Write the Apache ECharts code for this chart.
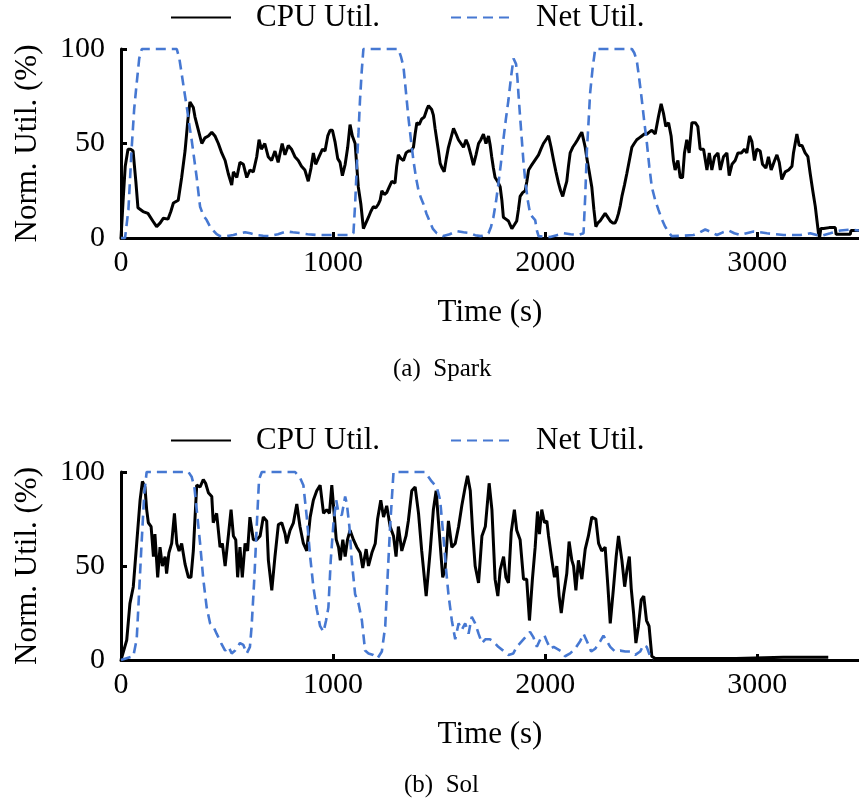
<!DOCTYPE html>
<html><head><meta charset="utf-8">
<script src="https://cdn.jsdelivr.net/npm/echarts@6/dist/echarts.min.js"></script>
<style>html,body{margin:0;padding:0;background:#fff}#c{width:859px;height:803px}</style>
</head><body><div id="c"></div>
<script>
const xTicks = [0, 1000, 2000, 3000];
const yTicks = [0, 50, 100];
const seriesNames = ['CPU Util.', 'Net Util.'];
const captions = ['(a)  Spark', '(b)  Sol'];

const sparkCpu = [[0,0],[10,20],[20,38],[33,47],[45,47],[57,46],[70,30],[80,16],[104,14],[127,13],[150,9],[168,6],[185,8],[200,10.5],[222,10],[235,14],[247,18.5],[270,20],[286,32],[302,46],[315,62],[325,72],[341,69],[349,64],[365,57],[381,50],[396,53],[412,54],[428,56],[443,54],[459,50],[475,45],[491,41],[506,34],[522,28],[530,35],[546,32],[561,40],[577,39],[593,32],[608,36],[624,35],[640,43],[651,52],[662,47],[678,50],[694,43],[710,41],[726,46],[741,40],[760,50],[773,44],[789,49],[804,47],[820,43],[836,41],[851,38],[867,36],[883,30],[896,37],[907,45],[918,39],[934,43],[950,47],[962,46],[975,54],[986,57],[997,57],[1009,51],[1022,42],[1033,40],[1044,33],[1057,39],[1069,48],[1080,60],[1091,54],[1104,50],[1119,27],[1131,18],[1143,5],[1155,8],[1167,11],[1178,14],[1190,16.6],[1202,16],[1214,18],[1222,20],[1230,25],[1242,23],[1253,24],[1265,27],[1277,30],[1285,31],[1292,29],[1300,38],[1308,44],[1320,42],[1332,41],[1344,45],[1355,46],[1367,46],[1379,48],[1387,55],[1395,61],[1406,60],[1418,63],[1430,64],[1442,68],[1450,70],[1458,71],[1465,68],[1473,65],[1481,58],[1489,52],[1497,46],[1505,39.5],[1514,37],[1524,35],[1534,42],[1544,48],[1556,53],[1568,58],[1580,55],[1591,52],[1603,50],[1615,48],[1627,52],[1638,49],[1650,44],[1662,38.6],[1674,44],[1686,50],[1697,52],[1709,55],[1721,50],[1733,54],[1741,49],[1748,43],[1756,37],[1764,32],[1776,30],[1788,27],[1796,20],[1803,11],[1815,10],[1827,9],[1835,7],[1843,5],[1855,7],[1866,9],[1874,15],[1882,22],[1894,24],[1906,25],[1914,30],[1922,36],[1933,38],[1945,40],[1957,42],[1969,44],[1980,47],[1992,50],[2004,52],[2016,54],[2028,48],[2040,41],[2051,35],[2063,29],[2073,25],[2083,22],[2092,26],[2102,30],[2110,38],[2118,45],[2130,48],[2142,50],[2153,52],[2165,54.5],[2173,56],[2181,55],[2189,48],[2197,42],[2208,35],[2220,27],[2230,15],[2239,6],[2249,8],[2259,9],[2271,11],[2283,13],[2295,11],[2307,9],[2318,8],[2330,8],[2338,10],[2346,13],[2354,17],[2362,22],[2374,28],[2385,34],[2397,41],[2409,48],[2420,50],[2432,52],[2444,53],[2456,54],[2468,55],[2480,55],[2491,56],[2503,57],[2519,55],[2534,64],[2547,71],[2558,66],[2569,59],[2582,61],[2594,54],[2605,41],[2613,36],[2626,41],[2637,32],[2648,32],[2657,45],[2668,52],[2679,45],[2692,61],[2708,61],[2720,59],[2731,47],[2747,47],[2763,36],[2774,45],[2786,36],[2799,43],[2815,45],[2826,36],[2841,43],[2857,45],[2868,33],[2881,39],[2896,41],[2909,45],[2925,45],[2940,47],[2951,45],[2964,54],[2975,51],[2987,41],[2998,47],[3014,46],[3025,39],[3041,37],[3053,43],[3066,36],[3082,41],[3093,44],[3104,40],[3116,31],[3132,35],[3148,36],[3164,38],[3171,45],[3187,55],[3198,49],[3211,49],[3226,45],[3239,43],[3250,34],[3262,25],[3274,16.6],[3282,9],[3289,2.5],[3294,0],[3300,5],[3313,5],[3340,5.5],[3368,5.5],[3372,2],[3384,2],[3439,2],[3442,4],[3480,4]];

const sparkNet = [[0,0],[19,0],[35,15],[50,47],[62,68],[74,82],[86,95],[98,100],[263,100],[275,95],[286,87],[298,78],[310,69.5],[322,60],[333,52],[345,42],[357,32],[365,24],[373,16.5],[388,12],[404,9.5],[420,6],[435,4],[451,2],[467,1],[500,1],[530,1.6],[560,2.5],[585,3],[610,2.5],[640,1.6],[670,1.2],[703,1],[740,2],[781,3.5],[810,3],[844,2.6],[880,2],[923,1.6],[960,1.6],[1001,1.6],[1040,1.6],[1072,1.6],[1096,2.5],[1104,18],[1112,38],[1120,56],[1127,73],[1135,88],[1143,100],[1308,100],[1320,96],[1332,90.6],[1343,78],[1355,64],[1367,52],[1379,41],[1391,32],[1403,25],[1415,21],[1426,18],[1440,13],[1453,9.5],[1470,5],[1489,2.5],[1520,1],[1550,2],[1583,3.6],[1615,3],[1646,2.6],[1670,1.5],[1698,1],[1733,2.5],[1745,6],[1756,11],[1768,19],[1780,29],[1792,40],[1803,52],[1815,63],[1827,73],[1839,85],[1851,95],[1863,92],[1869,85],[1874,76.5],[1882,64],[1890,52],[1898,40],[1906,30.7],[1918,20],[1929,13],[1941,11],[1953,9.5],[1961,4],[1969,1],[2024,0.5],[2055,1.5],[2087,2.5],[2120,2],[2157,1.6],[2181,2.5],[2189,22],[2197,46.5],[2205,62],[2212,76.5],[2224,90],[2236,100],[2409,100],[2420,98],[2432,94],[2444,84],[2456,73],[2468,61],[2480,50],[2491,38],[2503,27],[2519,20],[2534,15],[2550,10],[2566,6],[2582,3],[2597,1],[2650,1.2],[2700,1.6],[2730,3],[2755,4.5],[2785,3],[2810,1.6],[2838,3],[2865,4],[2892,2.5],[2920,1.6],[2950,2.5],[2983,3.4],[3014,3],[3046,2.5],[3085,2],[3125,1.6],[3165,1.6],[3203,1.6],[3250,2.5],[3297,1],[3345,2.5],[3392,4],[3440,4.5],[3480,4]];

const solCpu = [[0,0],[6,1],[27,10.6],[42,30],[58,39],[74,62],[90,85],[101,95],[113,92],[121,80],[129,73],[142,71],[153,55],[160,67],[173,44],[184,60],[195,50],[208,55],[215,46],[226,57],[239,62],[252,78],[263,62],[274,58],[286,62],[302,51],[318,44],[330,44],[341,58],[357,93],[373,92],[388,96],[399,94],[412,89],[428,87],[435,73],[451,78],[467,60],[478,62],[491,50],[507,67],[519,80],[530,66],[541,64],[550,44],[561,60],[572,44],[585,62],[597,58],[608,76],[624,64],[640,64],[656,66],[671,76],[687,74],[695,53],[711,37],[726,55],[742,72],[758,73],[774,67],[781,62],[797,69],[813,73],[829,83],[844,71],[860,62],[876,58],[892,76],[907,85],[923,90],[939,93],[955,78],[970,80],[983,78],[994,93],[1005,78],[1015,64],[1026,60],[1034,53],[1046,64],[1057,55],[1068,64],[1080,69],[1096,64],[1112,60],[1128,57],[1140,49],[1156,59],[1167,50],[1183,57],[1199,62],[1210,75],[1225,85],[1238,76],[1253,82],[1269,71],[1285,66],[1297,55],[1308,71],[1324,58],[1344,66],[1355,74],[1371,90],[1387,92],[1403,78],[1418,58],[1439,34],[1458,58],[1473,80],[1486,90],[1502,66],[1517,44],[1528,48],[1544,74],[1560,60],[1576,62],[1592,71],[1607,82],[1623,92],[1634,98],[1647,90],[1659,67],[1670,50],[1686,41],[1702,66],[1718,71],[1736,94],[1749,80],[1764,43],[1777,34],[1788,48],[1804,55],[1815,44],[1827,41],[1840,68],[1855,80],[1866,69],[1882,64],[1898,43],[1913,43],[1926,21],[1940,43],[1953,60],[1964,79],[1973,67],[1984,80],[1997,73],[2008,74],[2016,66],[2032,53],[2044,44],[2055,50],[2066,34],[2076,25],[2087,35],[2102,46],[2113,63],[2126,53],[2134,50],[2145,37],[2157,53],[2173,43],[2189,59],[2204,66],[2220,76],[2239,75],[2252,62],[2267,58],[2283,60],[2296,39],[2307,19.5],[2322,38],[2335,55],[2346,66],[2362,53],[2375,39],[2386,48],[2397,55],[2406,38],[2417,25],[2428,9],[2440,18],[2453,32],[2465,34],[2478,21],[2490,18],[2503,2],[2519,0.8],[2900,0.8],[3123,1.5],[3335,1.5]];

const solNet = [[0,0],[58,2],[74,11],[85,35],[97,62],[110,89],[121,100],[318,100],[333,97.5],[346,92],[357,80],[373,62],[388,43],[404,28],[420,19.5],[435,18],[451,14],[472,9],[491,5],[507,7],[522,3.5],[538,5],[561,9],[577,8],[593,3.5],[608,7],[616,18],[629,44],[640,71],[651,96],[664,100],[821,100],[844,97],[860,93],[876,76],[892,55],[907,39],[923,27],[939,18],[955,15],[967,21],[978,28],[989,53],[1002,73],[1015,85],[1026,78],[1041,77],[1057,87],[1065,83],[1077,71],[1088,53],[1104,35],[1120,30],[1136,21],[1151,5],[1167,3.5],[1190,2.7],[1210,1],[1230,4.5],[1246,18],[1257,44],[1269,71],[1285,100],[1434,100],[1465,95],[1489,92],[1505,85],[1520,66],[1533,48],[1544,35],[1560,21],[1576,11],[1592,19.5],[1607,16],[1623,19.5],[1639,14],[1654,23],[1670,19.5],[1686,14],[1702,9],[1718,11],[1740,11],[1755,10],[1779,7],[1802,5],[1827,2.7],[1850,3.5],[1866,7],[1882,9],[1906,12],[1929,15],[1945,12],[1961,7],[1977,11],[1997,13],[2008,10],[2024,6],[2040,7],[2055,6],[2079,4.5],[2094,2],[2118,3.5],[2141,6],[2165,10],[2181,14],[2197,10],[2217,4.5],[2236,6],[2260,10],[2275,13],[2291,10],[2307,7],[2330,4.5],[2354,5],[2378,4.5],[2401,4.5],[2425,2.7],[2448,4.5],[2464,8],[2479,7],[2495,2],[2511,0.3]];

const FONT = 'Liberation Serif';
const BLUE = '#4678d2';
const chart = echarts.init(document.getElementById('c'));

function xAxis(gi) {
  return {
    type: 'value', gridIndex: gi, min: 0, max: 3480, interval: 1000,
    name: 'Time (s)', nameLocation: 'middle', nameGap: 59,
    nameTextStyle: { fontFamily: FONT, fontSize: 31, color: '#000' },
    axisLine: { lineStyle: { color: '#000', width: 3 } },
    axisTick: { inside: true, length: 6, customValues: xTicks, lineStyle: { color: '#000', width: 3 } },
    axisLabel: { customValues: xTicks, formatter: v => String(v), fontFamily: FONT, fontSize: 30, color: '#000', margin: 10 },
    splitLine: { show: false }
  };
}
function yAxis(gi) {
  return {
    type: 'value', gridIndex: gi, min: 0, max: 100, interval: 50,
    name: 'Norm. Util. (%)', nameLocation: 'middle', nameGap: 78,
    nameTextStyle: { fontFamily: FONT, fontSize: 31, color: '#000' },
    axisLine: { show: true, lineStyle: { color: '#000', width: 3 } },
    axisTick: { show: true, inside: true, length: 6, customValues: yTicks, lineStyle: { color: '#000', width: 3 } },
    axisLabel: { customValues: yTicks, fontFamily: FONT, fontSize: 30, color: '#000', margin: 16 },
    splitLine: { show: false }
  };
}
function legend(name, left, top) {
  return {
    data: [name], left: left, top: top, padding: 0, itemWidth: 60, itemHeight: 14,
    itemStyle: { opacity: 0 },
    textStyle: { fontFamily: FONT, fontSize: 31, color: '#000', padding: [0, 0, 0, 20] },
    selectedMode: false
  };
}
function lineSeries(name, gi, data, isNet) {
  return {
    name: name, type: 'line', xAxisIndex: gi, yAxisIndex: gi, data: data,
    symbol: 'none', showSymbol: false, clip: false, animation: false,
    lineStyle: isNet ? { color: BLUE, width: 2.6, type: [10, 6] } : { color: '#000', width: 3 },
    itemStyle: { color: isNet ? BLUE : '#000' }
  };
}

chart.setOption({
  backgroundColor: '#fff',
  animation: false,
  grid: [
    { left: 121, top: 49, width: 738, height: 189 },
    { left: 121, top: 472, width: 738, height: 188 }
  ],
  xAxis: [xAxis(0), xAxis(1)],
  yAxis: [yAxis(0), yAxis(1)],
  legend: [
    legend(seriesNames[0], 170, 2), legend(seriesNames[1], 450, 2),
    legend(seriesNames[0], 170, 425), legend(seriesNames[1], 450, 425)
  ],
  title: [
    { text: captions[0], left: 388, top: 352, textStyle: { fontFamily: FONT, fontSize: 25, fontWeight: 'normal', color: '#000' } },
    { text: captions[1], left: 399, top: 768, textStyle: { fontFamily: FONT, fontSize: 25, fontWeight: 'normal', color: '#000' } }
  ],
  series: [
    lineSeries(seriesNames[0], 0, sparkCpu, false),
    lineSeries(seriesNames[1], 0, sparkNet, true),
    lineSeries(seriesNames[0], 1, solCpu, false),
    lineSeries(seriesNames[1], 1, solNet, true)
  ]
});
</script></body></html>
